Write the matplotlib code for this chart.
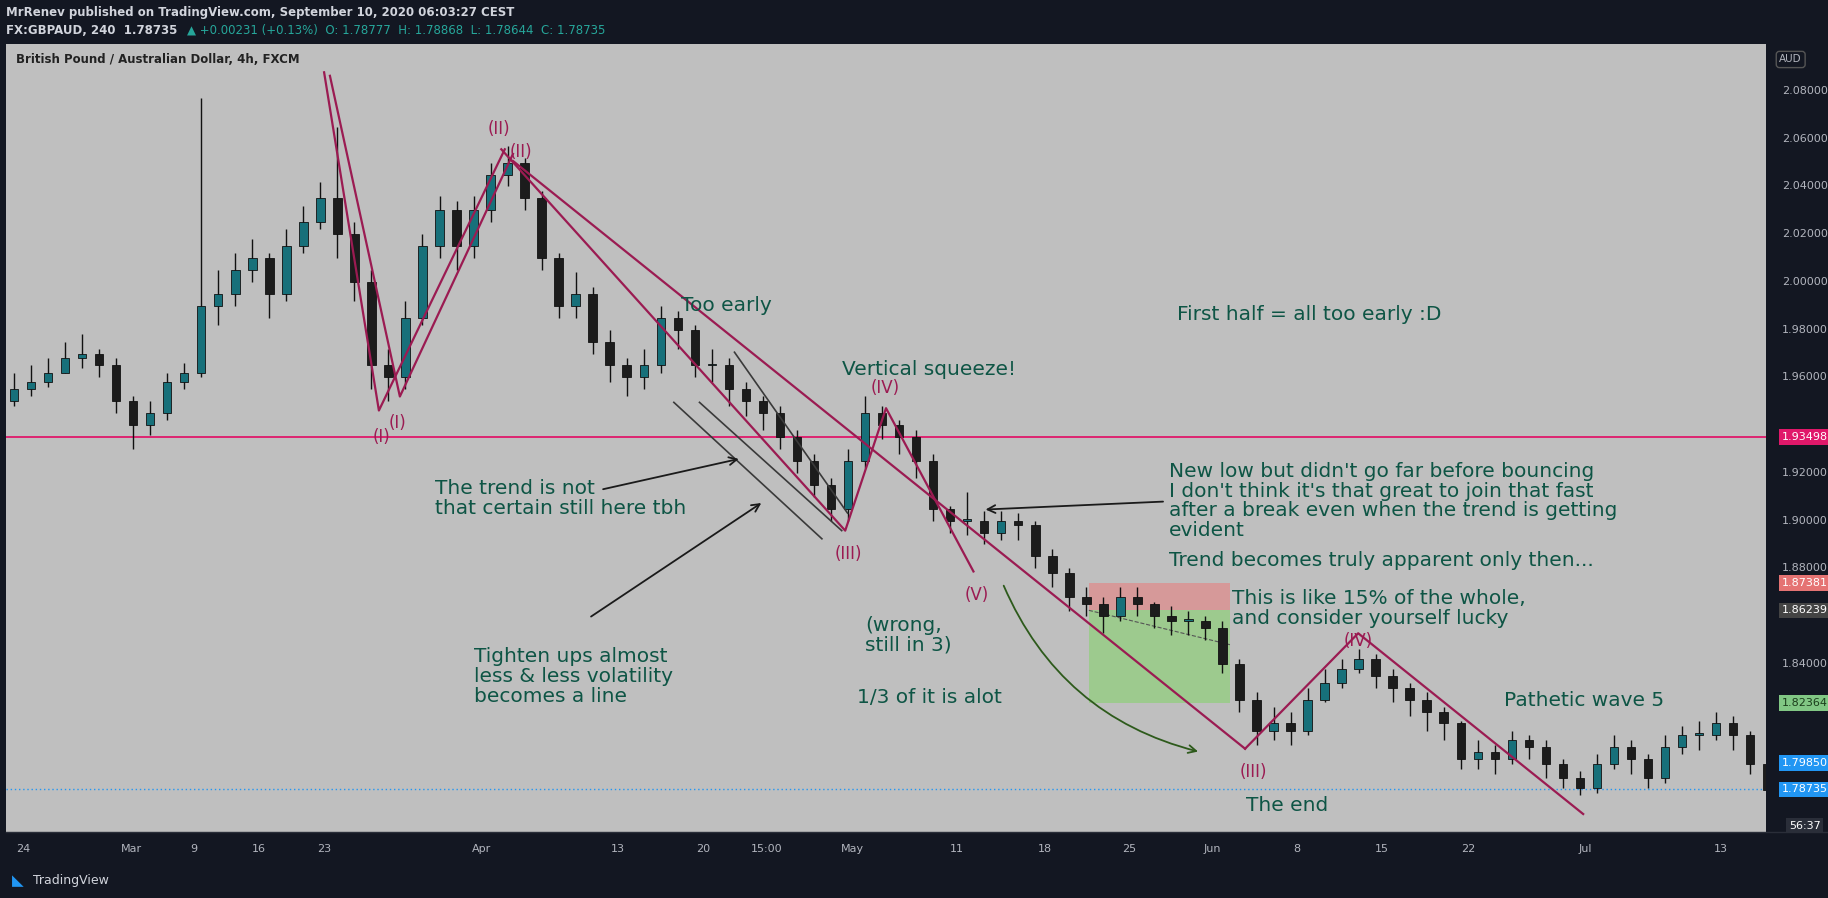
import matplotlib
matplotlib.use("Agg")
import matplotlib.pyplot as plt
from matplotlib.patches import Rectangle, FancyArrowPatch
from matplotlib.lines import Line2D

W, H = 1568.0, 770.0  # reference layout units

closes = [1.955,1.958,1.962,1.968,1.970,1.965,1.950,1.940,1.945,1.958,
          1.962,1.990,1.995,2.005,2.010,1.995,2.015,2.025,2.035,2.020,
          2.000,1.965,1.960,1.985,2.015,2.030,2.015,2.030,2.045,2.050,
          2.035,2.010,1.990,1.995,1.975,1.965,1.960,1.965,1.985,1.980,
          1.965,1.965,1.955,1.950,1.945,1.935,1.925,1.915,1.905,1.925,
          1.945,1.940,1.935,1.925,1.905,1.900,1.900,1.895,1.900,1.898,
          1.885,1.878,1.868,1.865,1.860,1.868,1.865,1.860,1.858,1.858,
          1.855,1.840,1.825,1.812,1.815,1.812,1.825,1.832,1.838,1.842,
          1.835,1.830,1.825,1.820,1.815,1.800,1.803,1.800,1.808,1.805,
          1.798,1.792,1.788,1.798,1.805,1.800,1.792,1.805,1.810,1.810,
          1.815,1.810,1.798,1.787]
opens = [1.950] + closes[:-1]
highs = [1.962,1.965,1.968,1.975,1.978,1.972,1.968,1.952,1.950,1.962,
         1.966,2.077,2.005,2.012,2.018,2.012,2.022,2.032,2.042,2.065,
         2.025,2.005,1.972,1.992,2.020,2.036,2.034,2.036,2.050,2.057,
         2.052,2.038,2.012,2.004,1.998,1.980,1.968,1.972,1.990,1.988,
         1.982,1.972,1.968,1.958,1.952,1.948,1.938,1.928,1.918,1.930,
         1.952,1.948,1.942,1.938,1.928,1.906,1.912,1.904,1.904,1.903,
         1.900,1.888,1.880,1.872,1.868,1.872,1.872,1.866,1.864,1.862,
         1.860,1.858,1.842,1.828,1.822,1.820,1.830,1.838,1.842,1.846,
         1.844,1.838,1.832,1.828,1.822,1.816,1.808,1.806,1.812,1.810,
         1.808,1.800,1.795,1.802,1.810,1.808,1.802,1.810,1.814,1.816,
         1.820,1.818,1.812,1.800]
lows = [1.948,1.952,1.956,1.962,1.964,1.960,1.945,1.930,1.936,1.942,
        1.955,1.960,1.982,1.990,2.000,1.985,1.992,2.012,2.022,2.010,
        1.992,1.955,1.950,1.955,1.982,2.010,2.005,2.010,2.025,2.040,
        2.030,2.005,1.985,1.985,1.970,1.958,1.952,1.955,1.962,1.972,
        1.960,1.958,1.948,1.944,1.938,1.930,1.920,1.910,1.900,1.900,
        1.922,1.934,1.928,1.918,1.900,1.895,1.894,1.890,1.892,1.892,
        1.880,1.872,1.862,1.860,1.853,1.858,1.860,1.855,1.852,1.852,
        1.850,1.836,1.820,1.806,1.808,1.806,1.810,1.824,1.830,1.836,
        1.830,1.824,1.818,1.812,1.808,1.796,1.796,1.794,1.798,1.800,
        1.792,1.788,1.785,1.786,1.796,1.794,1.788,1.790,1.802,1.804,
        1.808,1.804,1.794,1.784]

tick_pos_px = [20,113,166,222,278,413,530,603,658,731,821,896,969,1040,1112,1185,1259,1360,1476]
tick_labels = ["24","Mar","9","16","23","Apr","13","20","15:00","May","11","18","25","Jun","8","15","22","Jul","13"]
price_ticks = [2.08,2.06,2.04,2.02,2.00,1.98,1.96,1.94,1.92,1.90,1.88,1.86,1.84,1.82,1.80]

BG = "#131722"
CH = "#bfbfbf"
TXT = "#0e5545"
WAVE = "#9b1b52"

fig = plt.figure(figsize=(18.28, 8.98), dpi=100)
fig.patch.set_facecolor(BG)

def F(x, y):
    return (x / W, 1 - y / H)

x0, x1, yt, yb = 5, 1515, 38, 713
ax = fig.add_axes([x0 / W, 1 - yb / H, (x1 - x0) / W, (yb - yt) / H])
ax.set_facecolor(CH)
def px2i(px): return (px - 12) / 14.6
def py2p(py): return 2.08 - (py - 78) / 40.93 * 0.02
def p2py(p): return 78 + (2.08 - p) / 0.02 * 40.93
ax.set_xlim(px2i(x0), px2i(x1))
ax.set_ylim(py2p(yb), py2p(yt))
for s in ax.spines.values(): s.set_visible(False)
ax.set_xticks([]); ax.set_yticks([])

for i, (o, h, l, c) in enumerate(zip(opens, highs, lows, closes)):
    col = "#17707a" if c >= o else "#1c1c1c"
    ax.vlines(i, l, h, color="#111111", lw=1, zorder=3)
    ax.add_patch(Rectangle((i - 0.25, min(o, c)), 0.5, max(abs(c - o), 0.0008),
                           facecolor=col, edgecolor="#111111", lw=0.6, zorder=4))

ax.axhline(1.93498, color="#e0186a", lw=1.3, zorder=2)
ax.axhline(1.78735, color="#2196f3", lw=1, ls=(0, (1, 2)), zorder=2)

ax.add_patch(Rectangle((px2i(934), 1.86239), px2i(1055) - px2i(934), 1.87381 - 1.86239,
                       facecolor="#e08a8a", alpha=0.7, zorder=1))
ax.add_patch(Rectangle((px2i(934), 1.82364), px2i(1055) - px2i(934), 1.86239 - 1.82364,
                       facecolor="#8fcf7a", alpha=0.7, zorder=1))
ax.plot([px2i(934), px2i(1055)], [1.86239, 1.848], color="#555555", lw=0.8, ls="--", zorder=2)

def seg(pts, color=WAVE, lw=1.6):
    ax.plot([px2i(p[0]) for p in pts], [py2p(p[1]) for p in pts], color=color, lw=lw, zorder=5)

seg([(278, 62), (325, 352), (433, 128)])
seg([(283, 65), (343, 340), (440, 132)])
seg([(430, 128), (725, 455), (760, 350), (835, 490)])
seg([(440, 138), (1068, 642)])
seg([(1068, 642), (1165, 543), (1358, 698)])
for pts in [[(578, 345), (705, 462)], [(600, 345), (722, 455)], [(630, 302), (727, 440)]]:
    seg(pts, color="#3a3a3a", lw=1.2)

def arrow(a, b, color="#1a1a1a", rad=0.0):
    ax.add_patch(FancyArrowPatch((px2i(a[0]), py2p(a[1])), (px2i(b[0]), py2p(b[1])),
                                 arrowstyle="->", mutation_scale=14, color=color, lw=1.3,
                                 connectionstyle=f"arc3,rad={rad}", zorder=6))
arrow((515, 420), (636, 393))
arrow((505, 530), (655, 430))
arrow((1000, 430), (843, 437))
arrow((860, 500), (1030, 645), color="#2d5a1b", rad=0.25)

wlabels = [("(I)", 327, 375), ("(I)", 341, 363), ("(II)", 428, 111), ("(II)", 447, 130),
           ("(III)", 728, 475), ("(IV)", 759, 333), ("(V)", 838, 510), ("(III)", 1075, 662),
           ("(IV)", 1165, 550)]
for t, x, y in wlabels:
    fig.text(*F(x, y), t, color=WAVE, fontsize=12, ha="center", va="center")

notes = [("Too early", 584, 262), ("First half = all too early :D", 1010, 270),
         ("Vertical squeeze!", 722, 317),
         ("The trend is not\nthat certain still here tbh", 373, 411),
         ("New low but didn't go far before bouncing\nI don't think it's that great to join that fast\nafter a break even when the trend is getting\nevident", 1003, 396),
         ("Trend becomes truly apparent only then...", 1003, 481),
         ("This is like 15% of the whole,\nand consider yourself lucky", 1057, 505),
         ("(wrong,\nstill in 3)", 742, 528),
         ("Tighten ups almost\nless & less volatility\nbecomes a line", 407, 555),
         ("1/3 of it is alot", 735, 598), ("Pathetic wave 5", 1290, 601), ("The end", 1069, 691)]
for t, x, y in notes:
    fig.text(*F(x, y), t, color=TXT, fontsize=14.5, ha="left", va="center" if "\n" not in t else "top",
             linespacing=1.05)
fig.text(*F(14, 51), "British Pound / Australian Dollar, 4h, FXCM", color="#222222",
         fontsize=8.5, fontweight="bold", va="center")

badges = [(1.93498, "#e0186a", "white"), (1.87381, "#e57373", "white"), (1.86239, "#444444", "white"),
          (1.82364, "#81c784", "#1b3d1b"), (1.79850, "#2196f3", "white"), (1.78735, "#2196f3", "white")]
for p in price_ticks:
    y = p2py(p)
    if any(abs(y - p2py(b[0])) < 12 for b in badges):
        continue
    fig.text(*F(1548, y), f"{p:.5f}", color="#b2b5be", fontsize=8, ha="center", va="center")
for p, bg, fg in badges:
    fig.text(*F(1548, p2py(p)), f"{p:.5f}", color=fg, fontsize=8, ha="center", va="center",
             bbox=dict(boxstyle="square,pad=0.25", fc=bg, ec="none"))
fig.text(*F(1548, 708), "56:37", color="white", fontsize=8, ha="center", va="center",
         bbox=dict(boxstyle="square,pad=0.25", fc="#2a2e39", ec="none"))
fig.text(*F(1536, 51), "AUD", color="#b2b5be", fontsize=7.5, ha="center", va="center",
         bbox=dict(boxstyle="round,pad=0.3", fc=BG, ec="#555"))

for x, t in zip(tick_pos_px, tick_labels):
    fig.text(*F(x, 728), t, color="#b2b5be", fontsize=8, ha="center", va="center")
fig.add_artist(Line2D([x0 / W, 1], [1 - yb / H] * 2, color="#2a2e39", lw=1))

fig.text(*F(5, 11), "MrRenev published on TradingView.com, September 10, 2020 06:03:27 CEST",
         color="#d1d4dc", fontsize=8.5, fontweight="bold", va="center")
fig.text(*F(5, 26), "FX:GBPAUD, 240  1.78735", color="#d1d4dc", fontsize=8.5, fontweight="bold", va="center")
fig.text(*F(160, 26), "▲ +0.00231 (+0.13%)  O: 1.78777  H: 1.78868  L: 1.78644  C: 1.78735",
         color="#26a69a", fontsize=8.5, va="center")
fig.text(*F(28, 755), "TradingView", color="#d1d4dc", fontsize=9, va="center")
fig.text(*F(15, 755), "◣", color="#2196f3", fontsize=11, ha="center", va="center")

fig.savefig("out.png", dpi=100, facecolor=BG)
